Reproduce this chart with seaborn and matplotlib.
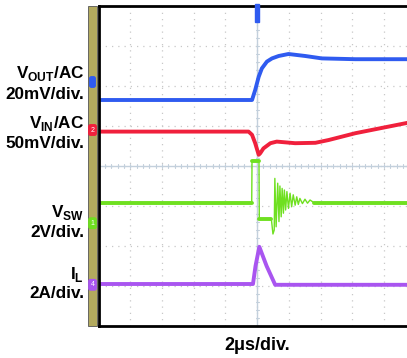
import numpy as np
import pandas as pd
import seaborn as sn
import matplotlib.pyplot as plt
from matplotlib.patches import Rectangle
from matplotlib.transforms import blended_transform_factory

# scope traces, x in divisions (2us/div), y in divisions from bottom of screen
vout_x = [0.0, 4.84, 4.94, 5.05, 5.15, 5.31, 5.47, 5.68, 5.99, 6.52, 7.04, 8.10, 9.75]
vout_y = [5.65, 5.65, 5.90, 6.23, 6.44, 6.61, 6.69, 6.75, 6.80, 6.75, 6.69, 6.67, 6.67]

vin_x = [0.0, 4.73, 4.84, 4.94, 5.05, 5.10, 5.20, 5.42, 5.62, 6.20, 6.84, 7.26, 8.10, 9.75]
vin_y = [4.86, 4.86, 4.78, 4.57, 4.28, 4.32, 4.44, 4.57, 4.61, 4.57, 4.58, 4.65, 4.82, 5.08]

vsw_x = [0.0, 4.83, 4.84, 5.06, 5.07, 5.45, 5.50, 5.54,
         5.56, 5.60, 5.65, 5.69, 5.72, 5.76, 5.79, 5.83, 5.86, 5.90, 5.94, 5.99,
         6.04, 6.09, 6.14, 6.20, 6.25, 6.30, 6.35, 6.43, 6.51, 6.59, 6.67, 6.80,
         9.75]
vsw_y = [3.08, 3.08, 4.12, 4.12, 2.67, 2.67, 2.30, 2.40,
         3.69, 2.48, 3.57, 2.61, 3.50, 2.73, 3.44, 2.82, 3.40, 2.90, 3.36, 2.94,
         3.32, 2.98, 3.28, 3.02, 3.23, 3.04, 3.19, 3.06, 3.17, 3.07, 3.15, 3.08,
         3.08]

il_x = [0.0, 4.87, 4.95, 5.07, 5.30, 5.57, 9.75]
il_y = [1.05, 1.05, 1.50, 1.98, 1.50, 1.03, 1.03]

labels = [(r'V$_{\mathbf{OUT}}$/AC', 78), ('20mV/div.', 99),
          (r'V$_{\mathbf{IN}}$/AC', 128), ('50mV/div.', 148),
          (r'V$_{\mathbf{SW}}$', 217), ('2V/div.', 237),
          (r'I$_{\mathbf{L}}$', 279), ('2A/div.', 298)]

blue, red, green, purple = '#2f5bf0', '#f0203c', '#6fe020', '#a955f0'

sn.set_style("white")
plt.rcParams['font.family'] = ['Liberation Sans', 'DejaVu Sans']
plt.rcParams['mathtext.fontset'] = 'custom'
plt.rcParams['mathtext.bf'] = 'Liberation Sans:bold'
plt.rcParams['mathtext.rm'] = 'Liberation Sans:bold'

W, H = 407, 358
fig = plt.figure(figsize=(W / 100, H / 100), dpi=100)
x0, y0, y1 = 98.6, 326, 6
ax = fig.add_axes([x0 / W, 1 - y0 / H, (W - x0) / W, (y0 - y1) / H])
ax.set_xlim(0, (W - x0) / 31.7)
ax.set_ylim(0, 8)

# graticule
ax.set_xticks(range(1, 10))
ax.set_yticks(range(1, 8))
ax.tick_params(length=0, labelbottom=False, labelleft=False)
ax.grid(True, ls=(0, (1, 4)), color='#c8c8c8', lw=0.9)
ax.axhline(4, color='#c3d0dc', lw=1.0, zorder=1)
ax.axvline(5, color='#c3d0dc', lw=1.0, zorder=1)
for t in np.arange(0.2, 10, 0.2):
  ax.plot([t, t], [3.94, 4.06], color='#c3d0dc', lw=0.8, zorder=1)
for t in np.arange(0.2, 8, 0.2):
  ax.plot([4.95, 5.05], [t, t], color='#c3d0dc', lw=0.8, zorder=1)

for s in ['top', 'bottom', 'left']:
  ax.spines[s].set_color('black')
  ax.spines[s].set_linewidth(2)
ax.spines['right'].set_visible(False)

# traces
sn.lineplot(x=vout_x, y=vout_y, ax=ax, color=blue, lw=2.8, estimator=None, sort=False)
sn.lineplot(x=vin_x, y=vin_y, ax=ax, color=red, lw=2.8, estimator=None, sort=False)
sn.lineplot(x=vsw_x, y=vsw_y, ax=ax, color=green, lw=1.0, estimator=None, sort=False)
for a, b in [(0, 2), (2, 4), (4, 6), (len(vsw_x) - 2, len(vsw_x))]:
  sn.lineplot(x=vsw_x[a:b], y=vsw_y[a:b], ax=ax, color=green, lw=2.8, estimator=None, sort=False)
sn.lineplot(x=il_x, y=il_y, ax=ax, color=purple, lw=2.8, estimator=None, sort=False)

# trigger marker
ax.add_patch(Rectangle((4.94, 7.6), 0.12, 0.46, color=blue, clip_on=False, zorder=5))

# channel strip on the left
ax.add_patch(Rectangle((88 / W, 1 - y0 / H), 9 / W, (y0 - y1) / H,
                       transform=fig.transFigure, facecolor='#b3aa5e',
                       edgecolor='#555555', lw=0.6, clip_on=False, zorder=0.5))
tr = blended_transform_factory(fig.transFigure, ax.transData)
for txt, c, yv in [(' ', blue, 6.1), ('2', red, 4.9), ('1', green, 2.57), ('4', purple, 1.03)]:
  ax.text(92.5 / W, yv, txt, transform=tr, ha='center', va='center', fontsize=5,
          color='white', clip_on=False, zorder=6,
          bbox=dict(boxstyle='round,pad=0.25', fc=c, ec=c))

for txt, py in labels:
  fig.text(84 / W, 1 - py / H, txt, ha='right', va='baseline', fontsize=12.3,
           fontweight='bold', color='black')
fig.text(257 / W, 1 - 350 / H, '2\u03bcs/div.', ha='center', va='baseline',
         fontsize=13, fontweight='bold', color='black')

ax.set_xlabel('')
ax.set_ylabel('')
plt.savefig('out.png', dpi=100)
